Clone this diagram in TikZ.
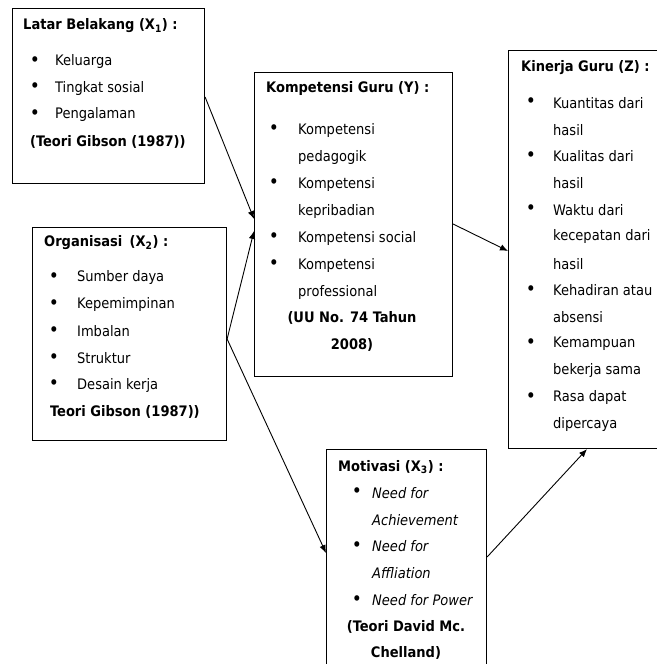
\documentclass[tikz,border=0pt]{standalone}
\usepackage{fontspec}
\setmainfont{DejaVu Sans Condensed}
\usetikzlibrary{arrows.meta}
\begin{document}
\begin{tikzpicture}[x=1pt,y=-1pt,
  box/.style={draw, line width=1.1pt, inner sep=0pt, anchor=north west},
  txt/.style={anchor=west, inner sep=0pt, font=\fontsize{14.5}{17}\selectfont},
  bul/.style={anchor=center, inner sep=0pt, font=\fontsize{19}{20}\selectfont},
  ttl/.style={txt, font=\fontsize{14.5}{17}\selectfont\bfseries},
  ctr/.style={anchor=center, inner sep=0pt, font=\fontsize{14.5}{17}\selectfont\bfseries},
  itl/.style={txt, font=\fontsize{14.5}{17}\selectfont\itshape},
  arr/.style={line width=0.9pt, -{Latex[length=8pt,width=6.5pt]}}]
\useasboundingbox (0,0) rectangle (656,664);
% boxes
\node[box, minimum width=192pt, minimum height=175pt] (x1) at (12,8) {};
\node[box, minimum width=194pt, minimum height=213pt] (x2) at (32,227) {};
\node[box, minimum width=198pt, minimum height=304pt] (y) at (254,72) {};
\node[box, minimum width=152pt, minimum height=398pt] (z) at (508,50) {};
\node[box, minimum width=160pt, minimum height=240pt] (x3) at (326,449) {};
% X1
\node[ttl] (x1t) at (23,26) {Latar Belakang (X\textsubscript{1}) :};
\foreach \t [count=\i] in {Keluarga,Tingkat sosial,Pengalaman}{
  \node[bul] (x1b\i) at (35,35+26.5*\i) {•};
  \node[txt] (x1i\i) at (55,35+26.5*\i) {\t};
}
\node[ttl] (x1r) at (30,142) {(Teori Gibson (1987))};
% X2
\node[ttl] (x2t) at (44,243) {Organisasi\enspace(X\textsubscript{2}) :};
\foreach \t [count=\i] in {Sumber daya,Kepemimpinan,Imbalan,Struktur,Desain kerja}{
  \node[bul] (x2b\i) at (54,251+26.8*\i) {•};
  \node[txt] (x2i\i) at (77,251+26.8*\i) {\t};
}
\node[ttl] (x2r) at (50,412) {Teori Gibson (1987))};
% Y
\node[ttl] (yt) at (266,88) {Kompetensi Guru (Y) :};
\foreach \t [count=\i] in {Kompetensi,pedagogik,Kompetensi,kepribadian,Kompetensi social,Kompetensi,professional}{
  \node[txt] (yi\i) at (298,103+27*\i) {\t};
}
\foreach \j/\yy in {1/130,2/184,3/238,4/265}{
  \node[bul] (yb\j) at (274,\yy) {•};
}
\node[ctr] (yr1) at (352,318) {(UU No. 74 Tahun};
\node[ctr] (yr2) at (352,345) {2008)};
% Z
\node[ttl] (zt) at (521,68) {Kinerja Guru (Z) :};
\foreach \t [count=\i] in {Kuantitas dari,hasil,Kualitas dari,hasil,Waktu dari,kecepatan dari,hasil,Kehadiran atau,absensi,Kemampuan,bekerja sama,Rasa dapat,dipercaya}{
  \node[txt] (zi\i) at (553,76+26.8*\i) {\t};
}
\foreach \j/\yy in {1/103,2/157,3/210,4/291,5/344,6/398}{
  \node[bul] (zb\j) at (531,\yy) {•};
}
% X3
\node[ttl] (x3t) at (338,467) {Motivasi (X\textsubscript{3}) :};
\foreach \t [count=\i] in {Need for,Achievement,Need for,Affliation,Need for Power}{
  \node[itl] (x3i\i) at (372,466+26.8*\i) {\t};
}
\foreach \j/\yy in {1/493,2/547,3/601}{
  \node[bul] (x3b\j) at (357,\yy) {•};
}
\node[ctr] (x3r1) at (406,627) {(Teori David Mc.};
\node[ctr] (x3r2) at (406,653) {Chelland)};
% connectors
\draw[arr] ([yshift=-89pt]x1.north east) -- ([yshift=-147pt]y.north west);
\draw[arr] ([yshift=-112pt]x2.north east) -- ([yshift=-159pt]y.north west);
\draw[arr] ([yshift=-112pt]x2.north east) -- ([yshift=-104pt]x3.north west);
\draw[arr] ([yshift=-152pt]y.north east) -- ([yshift=-201pt]z.north west);
\draw[arr] ([yshift=-108pt]x3.north east) -- ([xshift=79pt]z.south west);
\end{tikzpicture}
\end{document}
